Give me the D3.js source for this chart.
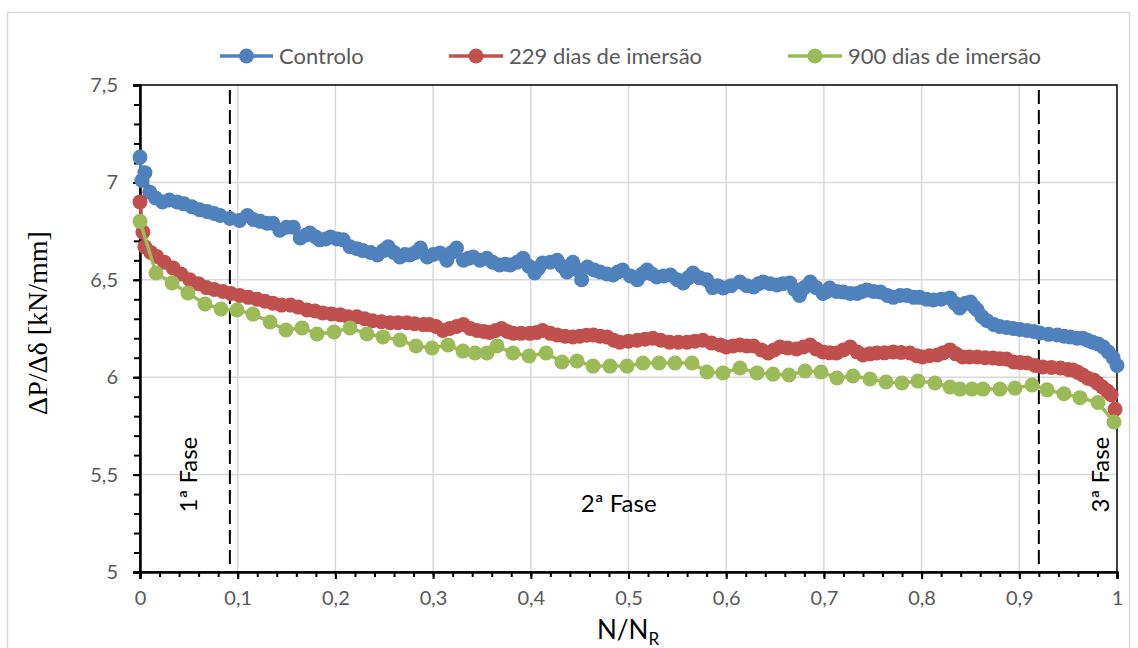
<!DOCTYPE html>
<html><head><meta charset="utf-8">
<script src="https://cdn.jsdelivr.net/npm/d3@7"></script>
<style>body{margin:0;background:#fff}svg{display:block}</style>
</head><body>
<script>
// ---------- DATA ----------
const seriesNames = ["Controlo", "229 dias de imersão", "900 dias de imersão"];
const xTicks = [0,0.1,0.2,0.3,0.4,0.5,0.6,0.7,0.8,0.9,1];
const yTicks = [5,5.5,6,6.5,7,7.5];
const phaseBounds = [0.092, 0.92];
const phaseLabels = ["1ª Fase", "2ª Fase", "3ª Fase"];

const controloX = [0,0.002,0.005,0.010,0.016,0.023,0.030,0.038,0.045,0.053,0.061,0.069,0.076,0.082,0.092,0.102,0.110,0.116,0.123,0.130,0.136,0.143,0.150,0.157,0.164,0.170,0.174,0.180,0.184,0.190,0.195,0.202,0.208,0.215,0.222,0.228,0.236,0.243,0.249,0.254,0.260,0.266,0.271,0.276,0.282,0.287,0.294,0.300,0.307,0.314,0.319,0.324,0.331,0.336,0.341,0.348,0.355,0.361,0.368,0.374,0.379,0.386,0.392,0.398,0.404,0.408,0.412,0.420,0.427,0.432,0.437,0.443,0.448,0.452,0.458,0.465,0.471,0.478,0.484,0.489,0.494,0.502,0.509,0.514,0.519,0.524,0.529,0.536,0.543,0.550,0.556,0.561,0.566,0.573,0.580,0.586,0.591,0.597,0.605,0.614,0.621,0.628,0.633,0.638,0.645,0.652,0.658,0.665,0.670,0.675,0.680,0.686,0.692,0.699,0.703,0.706,0.713,0.720,0.727,0.734,0.739,0.744,0.751,0.758,0.765,0.771,0.778,0.785,0.792,0.798,0.805,0.812,0.820,0.829,0.834,0.839,0.845,0.850,0.854,0.857,0.862,0.867,0.874,0.880,0.887,0.894,0.901,0.908,0.915,0.921,0.930,0.939,0.946,0.952,0.959,0.965,0.970,0.975,0.981,0.986,0.991,0.996,1.000];
const controloY = [7.13,7.01,7.05,6.95,6.92,6.90,6.91,6.90,6.89,6.875,6.86,6.85,6.84,6.83,6.815,6.805,6.83,6.81,6.80,6.79,6.79,6.755,6.77,6.77,6.715,6.73,6.74,6.72,6.705,6.71,6.72,6.71,6.705,6.67,6.66,6.65,6.64,6.627,6.65,6.67,6.64,6.617,6.63,6.627,6.64,6.663,6.617,6.63,6.637,6.60,6.64,6.663,6.60,6.61,6.617,6.60,6.61,6.59,6.576,6.58,6.576,6.59,6.61,6.57,6.535,6.56,6.586,6.59,6.60,6.57,6.54,6.59,6.55,6.50,6.566,6.55,6.54,6.53,6.525,6.54,6.55,6.52,6.50,6.53,6.55,6.53,6.515,6.52,6.525,6.50,6.484,6.51,6.535,6.51,6.50,6.46,6.47,6.458,6.47,6.489,6.47,6.463,6.48,6.489,6.48,6.473,6.48,6.484,6.45,6.42,6.46,6.489,6.46,6.43,6.44,6.458,6.44,6.437,6.43,6.43,6.44,6.447,6.44,6.437,6.42,6.41,6.42,6.42,6.41,6.41,6.40,6.396,6.40,6.407,6.38,6.355,6.38,6.386,6.36,6.345,6.31,6.29,6.27,6.26,6.255,6.25,6.245,6.24,6.235,6.227,6.22,6.217,6.21,6.207,6.20,6.20,6.19,6.18,6.17,6.155,6.13,6.10,6.06];

const d229X = [0,0.003,0.005,0.011,0.017,0.025,0.034,0.042,0.051,0.060,0.068,0.076,0.085,0.093,0.102,0.111,0.120,0.128,0.136,0.145,0.154,0.162,0.171,0.179,0.187,0.196,0.205,0.213,0.222,0.230,0.238,0.247,0.256,0.264,0.273,0.281,0.290,0.296,0.303,0.310,0.317,0.324,0.331,0.338,0.345,0.352,0.358,0.364,0.370,0.376,0.382,0.390,0.399,0.406,0.412,0.420,0.427,0.435,0.443,0.450,0.457,0.464,0.471,0.478,0.485,0.491,0.500,0.509,0.517,0.525,0.533,0.542,0.551,0.560,0.568,0.576,0.585,0.594,0.600,0.607,0.614,0.621,0.628,0.636,0.643,0.649,0.655,0.663,0.672,0.679,0.686,0.692,0.699,0.706,0.713,0.720,0.727,0.734,0.740,0.747,0.754,0.762,0.771,0.779,0.788,0.795,0.801,0.808,0.816,0.822,0.829,0.835,0.842,0.849,0.857,0.865,0.873,0.880,0.887,0.894,0.901,0.908,0.916,0.924,0.933,0.942,0.950,0.955,0.960,0.965,0.970,0.976,0.980,0.985,0.990,0.994,0.998];
const d229Y = [6.90,6.745,6.67,6.64,6.62,6.59,6.56,6.53,6.50,6.48,6.46,6.45,6.44,6.43,6.42,6.41,6.40,6.39,6.38,6.37,6.37,6.36,6.345,6.34,6.33,6.325,6.32,6.31,6.31,6.30,6.29,6.285,6.28,6.28,6.28,6.275,6.27,6.27,6.26,6.24,6.25,6.26,6.27,6.25,6.24,6.235,6.23,6.24,6.25,6.235,6.225,6.225,6.225,6.23,6.24,6.225,6.217,6.21,6.207,6.21,6.215,6.217,6.21,6.207,6.19,6.18,6.185,6.19,6.195,6.20,6.19,6.18,6.18,6.18,6.185,6.19,6.175,6.165,6.155,6.16,6.165,6.16,6.16,6.14,6.124,6.14,6.155,6.15,6.145,6.155,6.165,6.145,6.13,6.125,6.124,6.14,6.155,6.13,6.114,6.12,6.124,6.125,6.13,6.127,6.124,6.11,6.104,6.11,6.114,6.125,6.14,6.12,6.104,6.104,6.104,6.10,6.099,6.095,6.093,6.078,6.075,6.073,6.06,6.052,6.05,6.047,6.04,6.037,6.025,6.011,5.995,5.986,5.97,5.95,5.93,5.91,5.835];

const d900X = [0,0.0164,0.0328,0.0491,0.0665,0.0829,0.0993,0.1157,0.1331,0.1494,0.1658,0.1812,0.1986,0.2149,0.2323,0.2487,0.2661,0.2825,0.2989,0.3153,0.3306,0.3429,0.3552,0.3654,0.3818,0.3982,0.4156,0.4319,0.4473,0.4637,0.4811,0.4985,0.5148,0.5312,0.5476,0.5650,0.5803,0.5967,0.6141,0.6315,0.6479,0.6643,0.6807,0.6970,0.7134,0.7298,0.7472,0.7636,0.7799,0.7963,0.8137,0.8291,0.8393,0.8516,0.8628,0.8802,0.8956,0.9130,0.9284,0.9457,0.9621,0.9805,0.9969];
const d900Y = [6.80,6.535,6.484,6.432,6.376,6.350,6.345,6.324,6.283,6.242,6.253,6.222,6.232,6.253,6.222,6.207,6.191,6.160,6.150,6.165,6.134,6.124,6.124,6.160,6.124,6.109,6.124,6.078,6.083,6.057,6.057,6.057,6.073,6.073,6.073,6.073,6.027,6.022,6.047,6.022,6.016,6.011,6.032,6.027,5.996,6.006,5.991,5.975,5.970,5.980,5.970,5.950,5.939,5.939,5.939,5.939,5.944,5.960,5.935,5.915,5.895,5.870,5.770];

const colors = ["#4F81BD", "#C0504D", "#9BBB59"];

// ---------- CHART ----------
const W = 1138, H = 648;
const svg = d3.select("body").append("svg").attr("width", W).attr("height", H);
const FONT = "Lato, 'Open Sans', sans-serif";

svg.append("rect").attr("x", 7.5).attr("y", 12.5).attr("width", 1122).attr("height", 660)
  .attr("fill", "#fff").attr("stroke", "#d9d9d9").attr("stroke-width", 1.5);

const L = 140, R = 1117, T = 85, B = 572;
const x = d3.scaleLinear().domain([0, 1]).range([L, R]);
const y = d3.scaleLinear().domain([5, 7.5]).range([B, T]);

// grid
svg.append("g").selectAll("line").data(xTicks.slice(1, -1)).join("line")
  .attr("x1", d => x(d)).attr("x2", d => x(d)).attr("y1", T).attr("y2", B)
  .attr("stroke", "#d9d9d9").attr("stroke-width", 1.5);
svg.append("g").selectAll("line").data(yTicks.slice(1, -1)).join("line")
  .attr("x1", L).attr("x2", R).attr("y1", d => y(d)).attr("y2", d => y(d))
  .attr("stroke", "#d9d9d9").attr("stroke-width", 1.5);

// frame
svg.append("rect").attr("x", L).attr("y", T).attr("width", R - L).attr("height", B - T)
  .attr("fill", "none").attr("stroke", "#000").attr("stroke-width", 1.5);

// axes
const xAxis = d3.axisBottom(x).tickValues(xTicks).tickSize(7).tickFormat(d => String(d).replace(".", ","));
const gx = svg.append("g").attr("transform", `translate(0,${B})`).call(xAxis);
gx.select(".domain").attr("stroke", "#000").attr("stroke-width", 2.5);
gx.selectAll(".tick line").attr("stroke", "#000").attr("stroke-width", 2);
gx.selectAll(".tick text").attr("fill", "#595959").attr("font-size", 20).attr("font-family", FONT).attr("dy", "1.15em");
const xMinor = d3.axisBottom(x).tickValues(d3.range(0, 1.0001, 0.02)).tickSize(5).tickFormat("");
const gxm = svg.append("g").attr("transform", `translate(0,${B})`).call(xMinor);
gxm.select(".domain").remove();
gxm.selectAll(".tick line").attr("stroke", "#000").attr("stroke-width", 2);

const yAxis = d3.axisLeft(y).tickValues(yTicks).tickSize(7).tickFormat(d => String(d).replace(".", ","));
const gy = svg.append("g").attr("transform", `translate(${L},0)`).call(yAxis);
gy.select(".domain").attr("stroke", "#000").attr("stroke-width", 2.5);
gy.selectAll(".tick line").attr("stroke", "#000").attr("stroke-width", 2);
gy.selectAll(".tick text").attr("fill", "#595959").attr("font-size", 20).attr("font-family", FONT).attr("x", -22);
const yMinor = d3.axisLeft(y).tickValues(d3.range(5, 7.5001, 0.1)).tickSize(6).tickFormat("");
const gym = svg.append("g").attr("transform", `translate(${L},0)`).call(yMinor);
gym.select(".domain").remove();
gym.selectAll(".tick line").attr("stroke", "#000").attr("stroke-width", 2);

// phase lines
svg.append("g").selectAll("line").data(phaseBounds).join("line")
  .attr("x1", d => x(d)).attr("x2", d => x(d)).attr("y1", T + 5).attr("y2", B - 4)
  .attr("stroke", "#000").attr("stroke-width", 2).attr("stroke-dasharray", "14,6");

// series
const series = [
  {xs: controloX, ys: controloY},
  {xs: d229X, ys: d229Y},
  {xs: d900X, ys: d900Y}
];
const line = d3.line().x(d => x(d[0])).y(d => y(d[1]));
series.forEach((s, i) => {
  const pts = s.xs.map((v, k) => [v, s.ys[k]]);
  const g = svg.append("g");
  g.append("path").datum(pts).attr("d", line).attr("fill", "none")
    .attr("stroke", colors[i]).attr("stroke-width", 3.5).attr("stroke-linejoin", "round");
  g.selectAll("circle").data(pts).join("circle")
    .attr("cx", d => x(d[0])).attr("cy", d => y(d[1])).attr("r", 7.5).attr("fill", colors[i]);
});

// phase labels
const PF = 24;
svg.append("text").attr("transform", `translate(${x(0.05)},${y(5.5)}) rotate(-90)`)
  .attr("text-anchor", "middle").attr("dy", "0.35em").attr("font-size", PF).attr("font-family", FONT).attr("fill", "#000").text(phaseLabels[0]);
svg.append("text").attr("x", x(0.49)).attr("y", y(5.31))
  .attr("text-anchor", "middle").attr("font-size", PF).attr("font-family", FONT).attr("fill", "#000").text(phaseLabels[1]);
svg.append("text").attr("transform", `translate(${x(0.983)},${y(5.5)}) rotate(-90)`)
  .attr("text-anchor", "middle").attr("dy", "0.35em").attr("font-size", PF).attr("font-family", FONT).attr("fill", "#000").text(phaseLabels[2]);

// axis titles
const xt = svg.append("text").attr("x", 628).attr("y", 639).attr("text-anchor", "middle")
  .attr("font-size", 26).attr("font-family", FONT).attr("fill", "#000");
xt.append("tspan").text("N/N");
xt.append("tspan").attr("font-size", 17).attr("dy", 6).text("R");

svg.append("text").attr("transform", "translate(37,323) rotate(-90)")
  .attr("text-anchor", "middle").attr("dy", "0.35em").attr("font-size", 28)
  .attr("font-family", "'Liberation Serif', 'Times New Roman', serif").attr("fill", "#000")
  .text("ΔP/Δδ [kN/mm]");

// legend
const legend = [
  {x1: 220, x2: 273, tx: 279},
  {x1: 449, x2: 503, tx: 509},
  {x1: 788, x2: 842, tx: 848}
];
const lg = svg.append("g");
legend.forEach((l, i) => {
  lg.append("line").attr("x1", l.x1).attr("x2", l.x2).attr("y1", 56).attr("y2", 56)
    .attr("stroke", colors[i]).attr("stroke-width", 3.5);
  lg.append("circle").attr("cx", (l.x1 + l.x2) / 2).attr("cy", 56).attr("r", 7.5).attr("fill", colors[i]);
  lg.append("text").attr("x", l.tx).attr("y", 56).attr("dy", "0.35em").attr("font-size", 22)
    .attr("font-family", FONT).attr("fill", "#595959").text(seriesNames[i]);
});
</script>
</body></html>
